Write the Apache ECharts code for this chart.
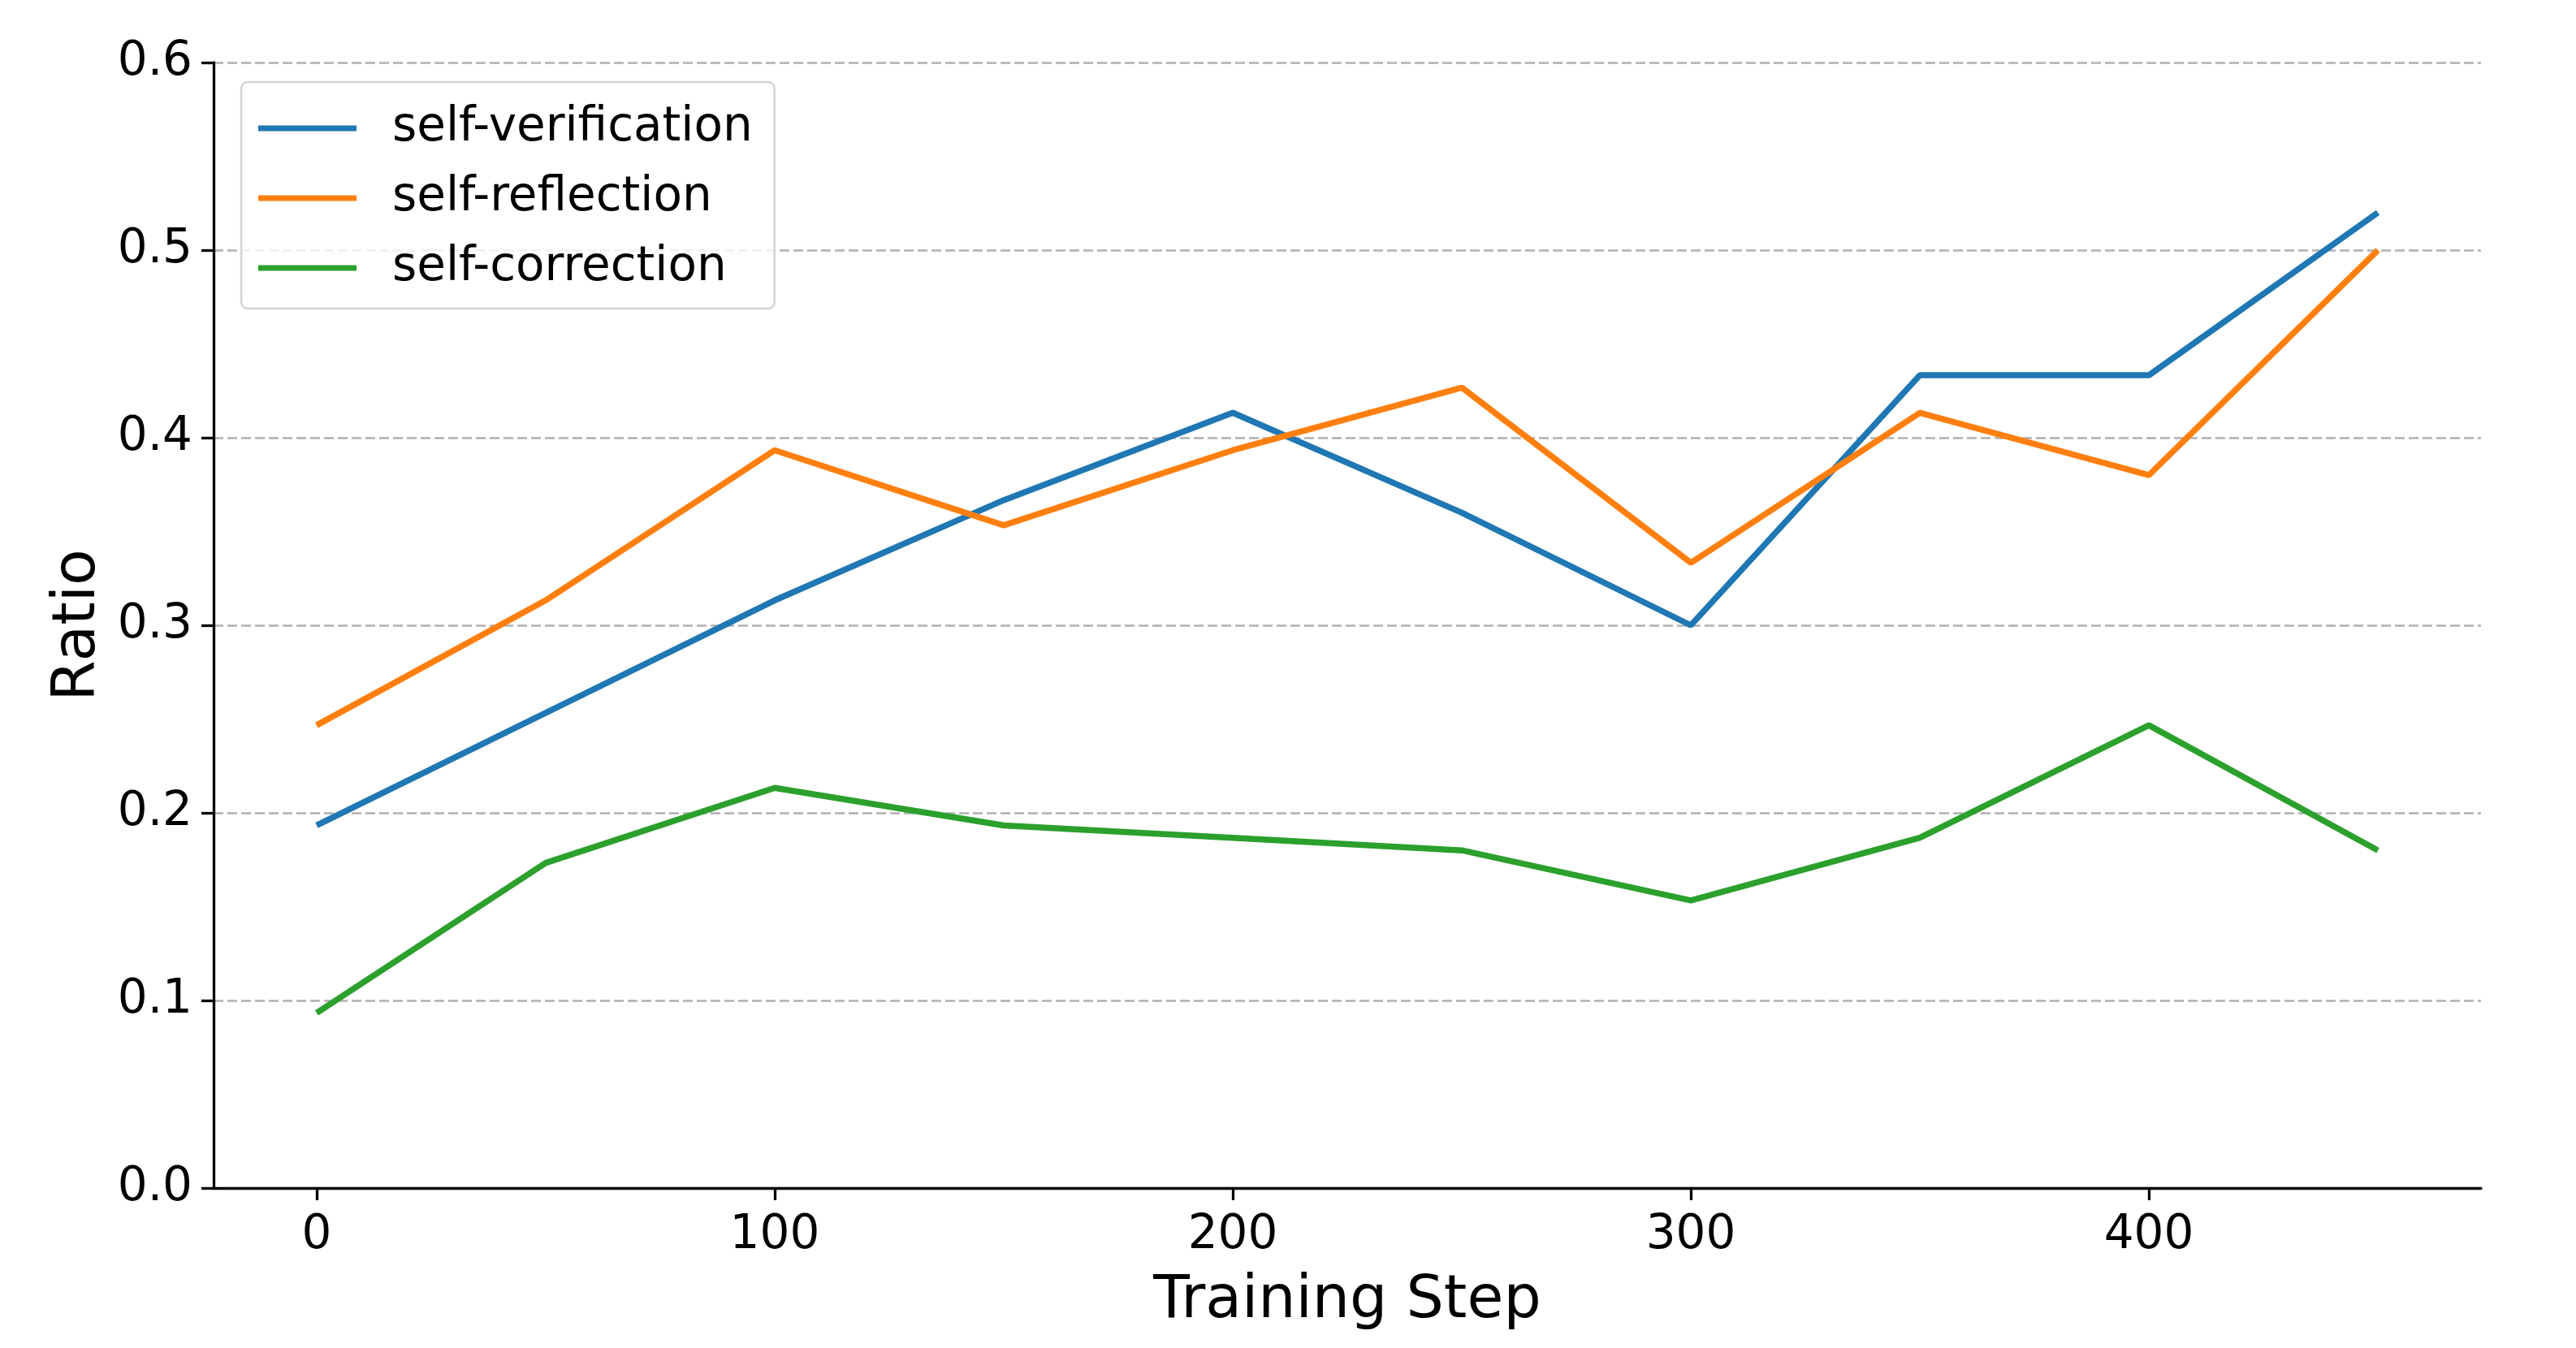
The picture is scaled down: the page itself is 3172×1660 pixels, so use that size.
<!DOCTYPE html>
<html>
<head>
<meta charset="utf-8">
<script src="https://cdn.jsdelivr.net/npm/echarts@6/dist/echarts.min.js"></script>
<style>
html,body{margin:0;padding:0;background:#fff;}
#chart{width:3172px;height:1660px;}
</style>
</head>
<body>
<div id="chart"></div>
<script>
const steps = [0, 50, 100, 150, 200, 250, 300, 350, 400, 450];
const selfVerification = [0.1933, 0.2533, 0.3133, 0.3667, 0.4133, 0.3600, 0.3000, 0.4333, 0.4333, 0.5200];
const selfReflection   = [0.2467, 0.3133, 0.3933, 0.3533, 0.3933, 0.4267, 0.3333, 0.4133, 0.3800, 0.5000];
const selfCorrection   = [0.0933, 0.1733, 0.2133, 0.1933, 0.1867, 0.1800, 0.1533, 0.1867, 0.2467, 0.1800];
const xTicks = [0, 100, 200, 300, 400];
const seriesNames = ['self-verification', 'self-reflection', 'self-correction'];
const colors = ['#1f77b4', '#ff7f0e', '#2ca02c'];

const pair = (ys) => steps.map((x, i) => [x, ys[i]]);
const font = 'DejaVu Sans';

const chart = echarts.init(document.getElementById('chart'), null, {renderer: 'canvas'});
chart.setOption({
  animation: false,
  backgroundColor: '#ffffff',
  color: colors,
  grid: {left: 263, right: 117, top: 77, bottom: 197, containLabel: false},
  legend: {
    left: 297, top: 101, orient: 'vertical',
    icon: 'rect', itemWidth: 121, itemHeight: 7, itemGap: 28,
    padding: [28, 27, 21, 21],
    borderColor: '#d4d4d4', borderWidth: 2.5, borderRadius: 8,
    backgroundColor: 'rgba(255,255,255,0.8)',
    textStyle: {fontFamily: font, fontSize: 58, lineHeight: 58, color: '#000', padding: [0, 0, 0, 39]},
    data: seriesNames
  },
  xAxis: {
    type: 'value', min: -22.5, max: 472.5,
    name: 'Training Step', nameLocation: 'middle', nameGap: 104,
    nameTextStyle: {fontFamily: font, fontSize: 73, color: '#000'},
    axisLine: {show: true, onZero: false, lineStyle: {color: '#000', width: 3.3}},
    axisTick: {show: true, length: 15, lineStyle: {color: '#000', width: 3.3}, customValues: xTicks},
    axisLabel: {fontFamily: font, fontSize: 58, color: '#000', margin: 30, customValues: xTicks},
    splitLine: {show: false}
  },
  yAxis: {
    type: 'value', min: 0, max: 0.6, interval: 0.1,
    name: 'Ratio', nameLocation: 'middle', nameGap: 118, nameRotate: 90,
    nameTextStyle: {fontFamily: font, fontSize: 73, color: '#000'},
    axisLine: {show: true, onZero: false, lineStyle: {color: '#000', width: 3.3}},
    axisTick: {show: true, length: 15, lineStyle: {color: '#000', width: 3.3}},
    axisLabel: {fontFamily: font, fontSize: 58, color: '#000', margin: 26, formatter: v => v.toFixed(1)},
    splitLine: {show: true, lineStyle: {color: '#b0b0b0', width: 2.5, type: [12, 5]}}
  },
  series: [
    {name: seriesNames[0], type: 'line', data: pair(selfVerification), showSymbol: false, symbol: 'none', lineStyle: {width: 7.5, color: colors[0]}, itemStyle: {color: colors[0]}},
    {name: seriesNames[1], type: 'line', data: pair(selfReflection), showSymbol: false, symbol: 'none', lineStyle: {width: 7.5, color: colors[1]}, itemStyle: {color: colors[1]}},
    {name: seriesNames[2], type: 'line', data: pair(selfCorrection), showSymbol: false, symbol: 'none', lineStyle: {width: 7.5, color: colors[2]}, itemStyle: {color: colors[2]}}
  ]
});
</script>
</body>
</html>
